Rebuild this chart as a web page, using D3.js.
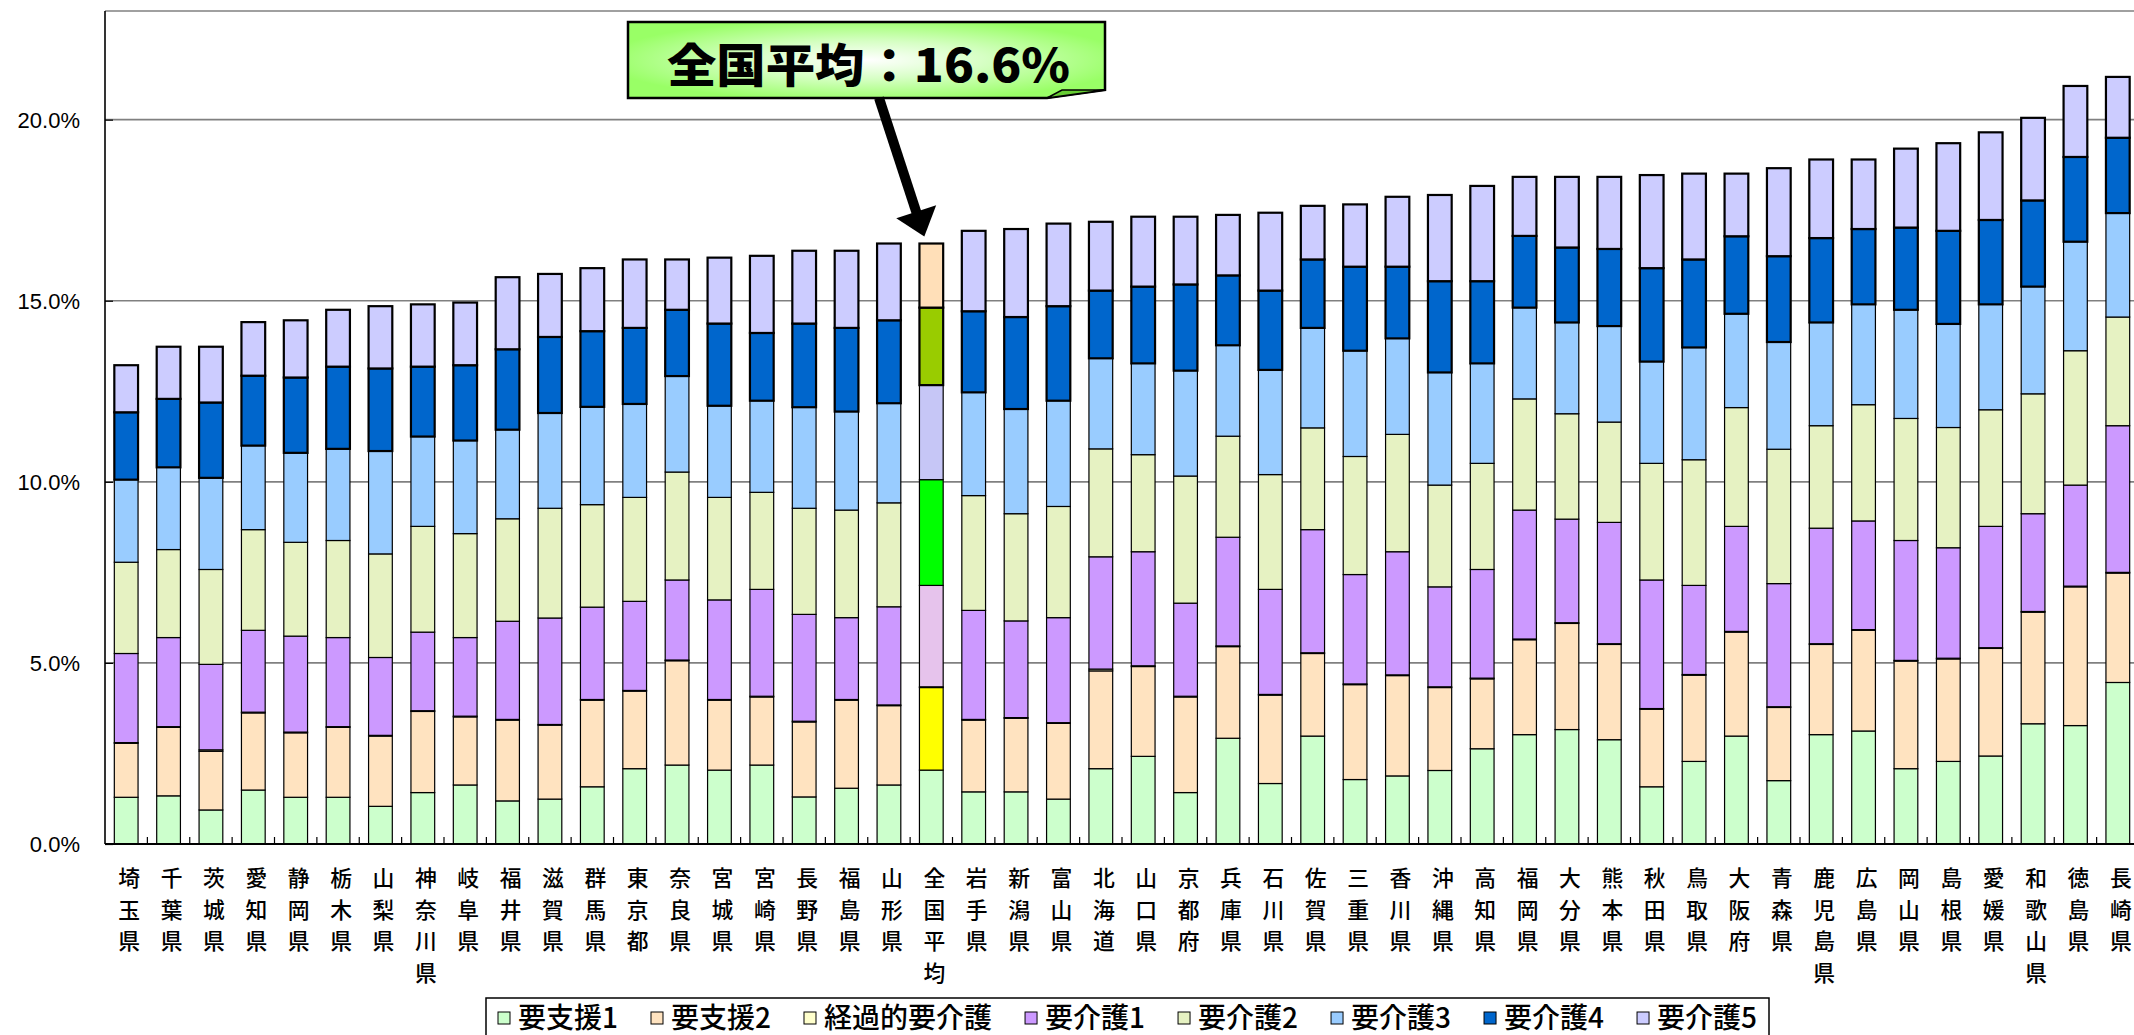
<!DOCTYPE html>
<html><head><meta charset="utf-8">
<script src="https://cdn.jsdelivr.net/npm/d3@7"></script>
<style>
html,body{margin:0;padding:0;background:#fff;overflow:hidden;}
svg{display:block;}
</style></head>
<body>
<svg id="chart" width="2134" height="1035"></svg>
<script>
// ---------- data (values in %) ----------
const categories = ["埼玉県","千葉県","茨城県","愛知県","静岡県","栃木県","山梨県","神奈川県","岐阜県","福井県","滋賀県","群馬県","東京都","奈良県","宮城県","宮崎県","長野県","福島県","山形県","全国平均","岩手県","新潟県","富山県","北海道","山口県","京都府","兵庫県","石川県","佐賀県","三重県","香川県","沖縄県","高知県","福岡県","大分県","熊本県","秋田県","鳥取県","大阪府","青森県","鹿児島県","広島県","岡山県","島根県","愛媛県","和歌山県","徳島県","長崎県"];
const seriesNames = ["要支援1","要支援2","経過的要介護","要介護1","要介護2","要介護3","要介護4","要介護5"];
const shien1 = [1.29,1.33,0.94,1.49,1.29,1.29,1.04,1.42,1.63,1.19,1.24,1.58,2.08,2.18,2.04,2.18,1.30,1.54,1.63,2.04,1.44,1.44,1.24,2.08,2.42,1.42,2.92,1.67,2.98,1.78,1.88,2.03,2.63,3.02,3.16,2.88,1.58,2.28,2.98,1.75,3.02,3.12,2.08,2.28,2.43,3.32,3.27,4.46];
const shien2 = [1.49,1.89,1.62,2.13,1.78,1.93,1.94,2.24,1.88,2.23,2.04,2.39,2.14,2.88,1.93,1.88,2.07,2.43,2.19,2.28,1.98,2.03,2.09,2.70,2.48,2.64,2.53,2.44,2.28,2.62,2.77,2.29,1.93,2.62,2.93,2.63,2.14,2.38,2.87,2.02,2.49,2.78,2.97,2.83,2.97,3.08,3.83,3.02];
const keika  = [0.02,0.02,0.04,0.02,0.02,0.02,0.02,0.02,0.02,0.02,0.02,0.02,0.02,0.02,0.02,0.02,0.02,0.02,0.02,0.02,0.02,0.02,0.02,0.05,0.02,0.02,0.02,0.02,0.02,0.02,0.02,0.02,0.02,0.02,0.02,0.02,0.02,0.02,0.02,0.02,0.02,0.02,0.02,0.02,0.02,0.02,0.02,0.02];
const kaigo1 = [2.46,2.46,2.36,2.26,2.65,2.46,2.15,2.17,2.17,2.71,2.94,2.55,2.46,2.21,2.75,2.95,2.95,2.26,2.71,2.80,3.01,2.67,2.90,3.10,3.15,2.57,3.00,2.90,3.40,3.02,3.40,2.76,3.00,3.56,2.86,3.35,3.55,2.46,2.90,3.40,3.19,3.00,3.31,3.05,3.35,2.70,2.79,4.05];
const kaigo2 = [2.52,2.43,2.62,2.78,2.59,2.68,2.86,2.92,2.87,2.83,3.03,2.83,2.87,2.98,2.83,2.68,2.93,2.97,2.87,2.92,3.17,2.96,3.07,2.98,2.68,3.51,2.79,3.17,2.81,3.26,3.24,2.81,2.93,3.07,2.91,2.77,3.22,3.47,3.28,3.71,2.83,3.21,3.37,3.32,3.22,3.31,3.71,3.00];
const kaigo3 = [2.28,2.27,2.53,2.32,2.47,2.53,2.84,2.48,2.57,2.46,2.63,2.70,2.58,2.65,2.53,2.53,2.79,2.72,2.75,2.61,2.85,2.89,2.92,2.50,2.52,2.91,2.51,2.89,2.76,2.92,2.65,3.11,2.76,2.52,2.52,2.65,2.81,3.10,2.59,2.96,2.85,2.77,3.00,2.86,2.91,2.96,3.01,2.87];
const kaigo4 = [1.86,1.89,2.08,1.93,2.08,2.27,2.28,1.93,2.08,2.22,2.10,2.09,2.10,1.83,2.27,1.87,2.31,2.31,2.29,2.14,2.24,2.54,2.61,1.87,2.12,2.38,1.93,2.19,1.89,2.32,1.98,2.52,2.27,1.98,2.07,2.13,2.58,2.43,2.14,2.37,2.33,2.08,2.27,2.57,2.33,2.38,2.34,2.08];
const kaigo5 = [1.30,1.44,1.54,1.48,1.58,1.57,1.72,1.72,1.73,1.99,1.74,1.74,1.89,1.39,1.82,2.13,2.01,2.13,2.12,1.77,2.22,2.43,2.28,1.90,1.93,1.87,1.67,2.15,1.48,1.72,1.93,2.38,2.63,1.63,1.95,1.99,2.57,2.37,1.73,2.43,2.17,1.92,2.18,2.42,2.42,2.28,1.96,1.68];
const yTicks = [0, 5, 10, 15, 20];
const highlightCategory = "全国平均";
const annotationText = "全国平均：16.6%";

// ---------- styles ----------
const colors = ["#CCFFCC","#FFE3C0","#FFFFCC","#CC99FF","#E6F2C2","#99CCFF","#0066CC","#CCCCFF"];
const hiColors = ["#CCFFCC","#FFFF00","#FFFFCC","#E6C3EC","#00FF00","#C6C6F6","#99CC00","#FFDFB8"];
const strokeW = [1.2,1.2,1.2,1.2,1.2,1.2,2.2,2.2];

const W = 2134, H = 1035;
const pLeft = 105, pTop = 11, pBottom = 844, pRight = 2139;

const svg = d3.select("#chart");
const defs = svg.append("defs");

const rows = categories.map((c, i) => ({
  cat: c,
  "要支援1": shien1[i], "要支援2": shien2[i], "経過的要介護": keika[i],
  "要介護1": kaigo1[i], "要介護2": kaigo2[i], "要介護3": kaigo3[i],
  "要介護4": kaigo4[i], "要介護5": kaigo5[i]
}));
const stacked = d3.stack().keys(seriesNames)(rows);

const x = d3.scaleBand().domain(categories).range([pLeft, pRight]).paddingInner(0.44).paddingOuter(0.22);
const y = d3.scaleLinear().domain([0, 23]).range([pBottom, pTop]);

// grid lines
svg.append("g").selectAll("line").data(yTicks.filter(d => d > 0)).join("line")
  .attr("x1", pLeft).attr("x2", W).attr("y1", d => y(d)).attr("y2", d => y(d))
  .attr("stroke", "#808080").attr("stroke-width", 1.6);
// top border
svg.append("line").attr("x1", pLeft).attr("x2", W).attr("y1", pTop).attr("y2", pTop)
  .attr("stroke", "#808080").attr("stroke-width", 1.6);

// bars
const gBars = svg.append("g");
stacked.forEach((s, si) => {
  gBars.append("g").selectAll("rect").data(s).join("rect")
    .attr("x", d => x(d.data.cat))
    .attr("width", x.bandwidth())
    .attr("y", d => y(d[1]))
    .attr("height", d => Math.max(0, y(d[0]) - y(d[1])))
    .attr("fill", d => d.data.cat === highlightCategory ? hiColors[si] : colors[si])
    .attr("stroke", "#000")
    .attr("stroke-width", strokeW[si]);
});

// axes
const yAxis = d3.axisLeft(y).tickValues(yTicks).tickSize(-8).tickPadding(25)
  .tickFormat(d => d3.format(".1f")(d) + "%");
const gy = svg.append("g").attr("transform", `translate(${pLeft},0)`).call(yAxis);
gy.select(".domain").attr("stroke", "#000").attr("stroke-width", 1.6).attr("d", `M0,${pTop}V${pBottom}`);
gy.selectAll(".tick line").attr("stroke", "#000").attr("stroke-width", 1.2);
gy.selectAll(".tick text").attr("font-family", "'Liberation Sans', Arial, sans-serif")
  .attr("font-size", 22).attr("fill", "#000").attr("dy", "0.36em");

// x axis baseline and inner ticks at band boundaries
svg.append("line").attr("x1", pLeft).attr("x2", W).attr("y1", pBottom).attr("y2", pBottom)
  .attr("stroke", "#000").attr("stroke-width", 1.8);
const bounds = categories.map(c => x(c) - x.step() * x.paddingInner() / 2).slice(1);
svg.append("g").selectAll("line").data(bounds).join("line")
  .attr("x1", d => d).attr("x2", d => d).attr("y1", pBottom).attr("y2", pBottom - 7)
  .attr("stroke", "#000").attr("stroke-width", 1.2);

// x labels (characters stacked vertically)
const gx = svg.append("g");
categories.forEach(c => {
  const cx = Math.min(x(c) + x.bandwidth() / 2 + 3, W - 12);
  const t = gx.append("text").attr("font-family", "'Noto Sans CJK JP', sans-serif")
    .attr("font-size", 21.8).attr("font-weight", 500).attr("text-anchor", "middle").attr("fill", "#000");
  Array.from(c).forEach((ch, k) => {
    t.append("tspan").attr("x", cx).attr("y", 886 + k * 31.7).text(ch);
  });
});

// legend
const legX = 486, legY = 998, legW = 1283;
svg.append("rect").attr("x", legX).attr("y", legY).attr("width", legW).attr("height", 60)
  .attr("fill", "#fff").attr("stroke", "#000").attr("stroke-width", 1.5);
const gl = svg.append("g");
const items = seriesNames.map((n, i) => {
  const g = gl.append("g");
  g.append("rect").attr("x", 0).attr("y", -6).attr("width", 12).attr("height", 12)
    .attr("fill", colors[i]).attr("stroke", "#000").attr("stroke-width", 1);
  const t = g.append("text").attr("x", 20).attr("y", 0).attr("dy", "0.36em")
    .attr("font-family", "'Noto Sans CJK JP', sans-serif").attr("font-size", 28).attr("font-weight", 500)
    .attr("fill", "#000").text(n);
  const w = 20 + t.node().getComputedTextLength();
  return {g, w};
});
const totalW = d3.sum(items, d => d.w);
const gap = (legW - 24 - totalW) / (items.length - 1);
let cxp = legX + 12;
items.forEach(it => { it.g.attr("transform", `translate(${cxp},${1018})`); cxp += it.w + gap; });

// annotation callout
const grad = defs.append("radialGradient").attr("id", "calloutGrad")
  .attr("cx", "50%").attr("cy", "50%").attr("r", "55%");
grad.append("stop").attr("offset", "0%").attr("stop-color", "#FFFFFF");
grad.append("stop").attr("offset", "45%").attr("stop-color", "#D6FFC4");
grad.append("stop").attr("offset", "100%").attr("stop-color", "#99FF66");
const bx0 = 628, by0 = 22, bx1 = 1105, by1 = 98;
svg.append("path")
  .attr("d", `M${bx0},${by0}H${bx1}V${by1 - 8}L${bx1 - 58},${by1}H${bx0}Z`)
  .attr("fill", "url(#calloutGrad)").attr("stroke", "#000").attr("stroke-width", 2.5);
svg.append("path")
  .attr("d", `M${bx1 - 58},${by1}L${bx1 - 43},${by1 - 8}L${bx1},${by1 - 8}Z`)
  .attr("fill", "#66CC33").attr("stroke", "#000").attr("stroke-width", 1.5);
svg.append("text").attr("x", 667).attr("y", 82)
  .attr("font-family", "'Noto Sans CJK JP', sans-serif").attr("font-weight", 900)
  .attr("font-size", 46).attr("textLength", 403).attr("lengthAdjust", "spacingAndGlyphs")
  .attr("fill", "#000").text(annotationText);

// arrow to the national average bar
const hiIdx = categories.indexOf(highlightCategory);
const hiTotal = stacked[stacked.length - 1][hiIdx][1];
const tipX = x(highlightCategory) + x.bandwidth() / 2 - 7, tipY = y(hiTotal) - 7;
const sx = 879, sy = by1;
const dx = tipX - sx, dy = tipY - sy, L = Math.hypot(dx, dy);
const ux = dx / L, uy = dy / L, px = -uy, py = ux;
const headL = 26, headW = 21;
const bxc = tipX - ux * headL, byc = tipY - uy * headL;
svg.append("line").attr("x1", sx).attr("y1", sy).attr("x2", bxc + ux * 2).attr("y2", byc + uy * 2)
  .attr("stroke", "#000").attr("stroke-width", 10);
svg.append("path")
  .attr("d", `M${tipX},${tipY}L${bxc + px * headW},${byc + py * headW}L${bxc - px * headW},${byc - py * headW}Z`)
  .attr("fill", "#000");
</script>
</body></html>
